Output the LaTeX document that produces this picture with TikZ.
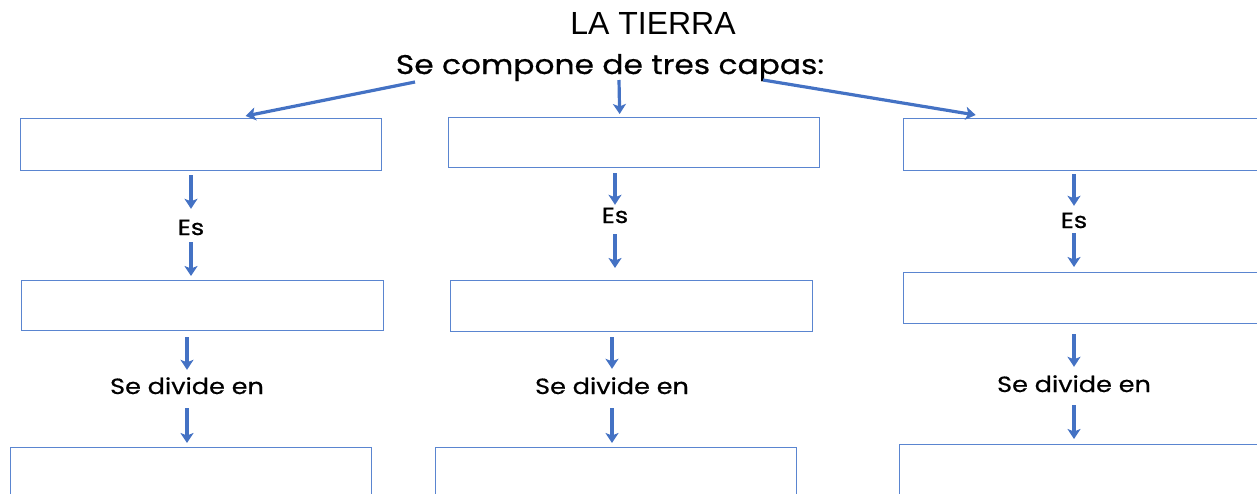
\documentclass[tikz,border=0pt]{standalone}
\usepackage{fontspec}
\setmainfont{Poppins}[FakeStretch=1.16, FakeBold=0.6]
\newfontfamily\titlefont{Liberation Sans}
\usetikzlibrary{arrows.meta}
\definecolor{arrblue}{HTML}{4472C4}
\definecolor{boxblue}{HTML}{5A85D0}
\tikzset{
  box/.style={draw=boxblue, line width=1.3pt, inner sep=0pt, anchor=north west, rectangle},
  arr/.style={draw=arrblue, line width=3.2pt, -{Stealth[length=10pt,width=13pt,inset=2.5pt]}},
  lbl/.style={inner sep=0pt, anchor=base, text height=16pt, text depth=0pt, font=\fontsize{22}{24}\selectfont},
}
\begin{document}
\begin{tikzpicture}[x=1pt,y=-1pt]
\path[use as bounding box] (0,0) rectangle (1257,493);
\begin{scope}
\clip (0,0) rectangle (1257,493);
% titles
\node[inner sep=0pt, anchor=base, font=\titlefont\fontsize{32}{34}\selectfont] (title) at (653,34) {LA TIERRA};
\node[inner sep=0pt, anchor=base, font=\fontsize{27}{30}\selectfont] (sub) at (610,74) {Se compone de tres capas:};
% left column
\node[box, minimum width=361pt, minimum height=52pt] (L1) at (20,118) {};
\node[box, minimum width=362pt, minimum height=50pt] (L2) at (21,280) {};
\node[box, minimum width=361pt, minimum height=70pt] (L3) at (10,447) {};
\node[lbl] (LEs) at (191,235) {Es};
\node[lbl] (LDiv) at (187,394) {Se divide en};
% middle column
\node[box, minimum width=371pt, minimum height=50pt] (M1) at (448,117) {};
\node[box, minimum width=362pt, minimum height=51pt] (M2) at (450,280) {};
\node[box, minimum width=361pt, minimum height=70pt] (M3) at (435,447) {};
\node[lbl] (MEs) at (615,223) {Es};
\node[lbl] (MDiv) at (612,394) {Se divide en};
% right column
\node[box, minimum width=370pt, minimum height=52pt] (R1) at (903,118) {};
\node[box, minimum width=370pt, minimum height=51pt] (R2) at (903,272) {};
\node[box, minimum width=370pt, minimum height=70pt] (R3) at (899,444) {};
\node[lbl] (REs) at (1074,228) {Es};
\node[lbl] (RDiv) at (1074,392) {Se divide en};
% top arrows
\draw[arr] ([xshift=-195pt,yshift=-8pt]sub.base) -- ([xshift=44.5pt,yshift=2pt]L1.north);
\draw[arr] ([xshift=9pt,yshift=-6pt]sub.base) -- ([xshift=-14.5pt,yshift=3pt]M1.north);
\draw[arr] ([xshift=153pt,yshift=-6pt]sub.base) -- ([xshift=-113pt,yshift=3pt]R1.north);
% left arrows
\draw[arr, shorten <=4pt, shorten >=10pt] (L1.south -| LEs.north) -- (LEs.north);
\draw[arr, shorten <=7pt, shorten >=4pt] (LEs.south) -- (LEs.south |- L2.north);
\draw[arr, shorten <=6pt, shorten >=8pt] (L2.south -| LDiv.north) -- (LDiv.north);
\draw[arr, shorten <=14pt, shorten >=4pt] (LDiv.south) -- (LDiv.south |- L3.north);
% middle arrows
\draw[arr, shorten <=5pt, shorten >=2pt] (M1.south -| MEs.north) -- (MEs.north);
\draw[arr, shorten <=11pt, shorten >=12pt] (MEs.south) -- (MEs.south |- M2.north);
\draw[arr, shorten <=5pt, shorten >=9pt] (M2.south -| MDiv.north) -- (MDiv.north);
\draw[arr, shorten <=14pt, shorten >=4pt] (MDiv.south) -- (MDiv.south |- M3.north);
% right arrows
\draw[arr, shorten <=3pt, shorten >=6pt] (R1.south -| REs.north) -- (REs.north);
\draw[arr, shorten <=5pt, shorten >=5pt] (REs.south) -- (REs.south |- R2.north);
\draw[arr, shorten <=10pt, shorten >=9pt] (R2.south -| RDiv.north) -- (RDiv.north);
\draw[arr, shorten <=13pt, shorten >=5pt] (RDiv.south) -- (RDiv.south |- R3.north);
\end{scope}
\end{tikzpicture}
\end{document}
